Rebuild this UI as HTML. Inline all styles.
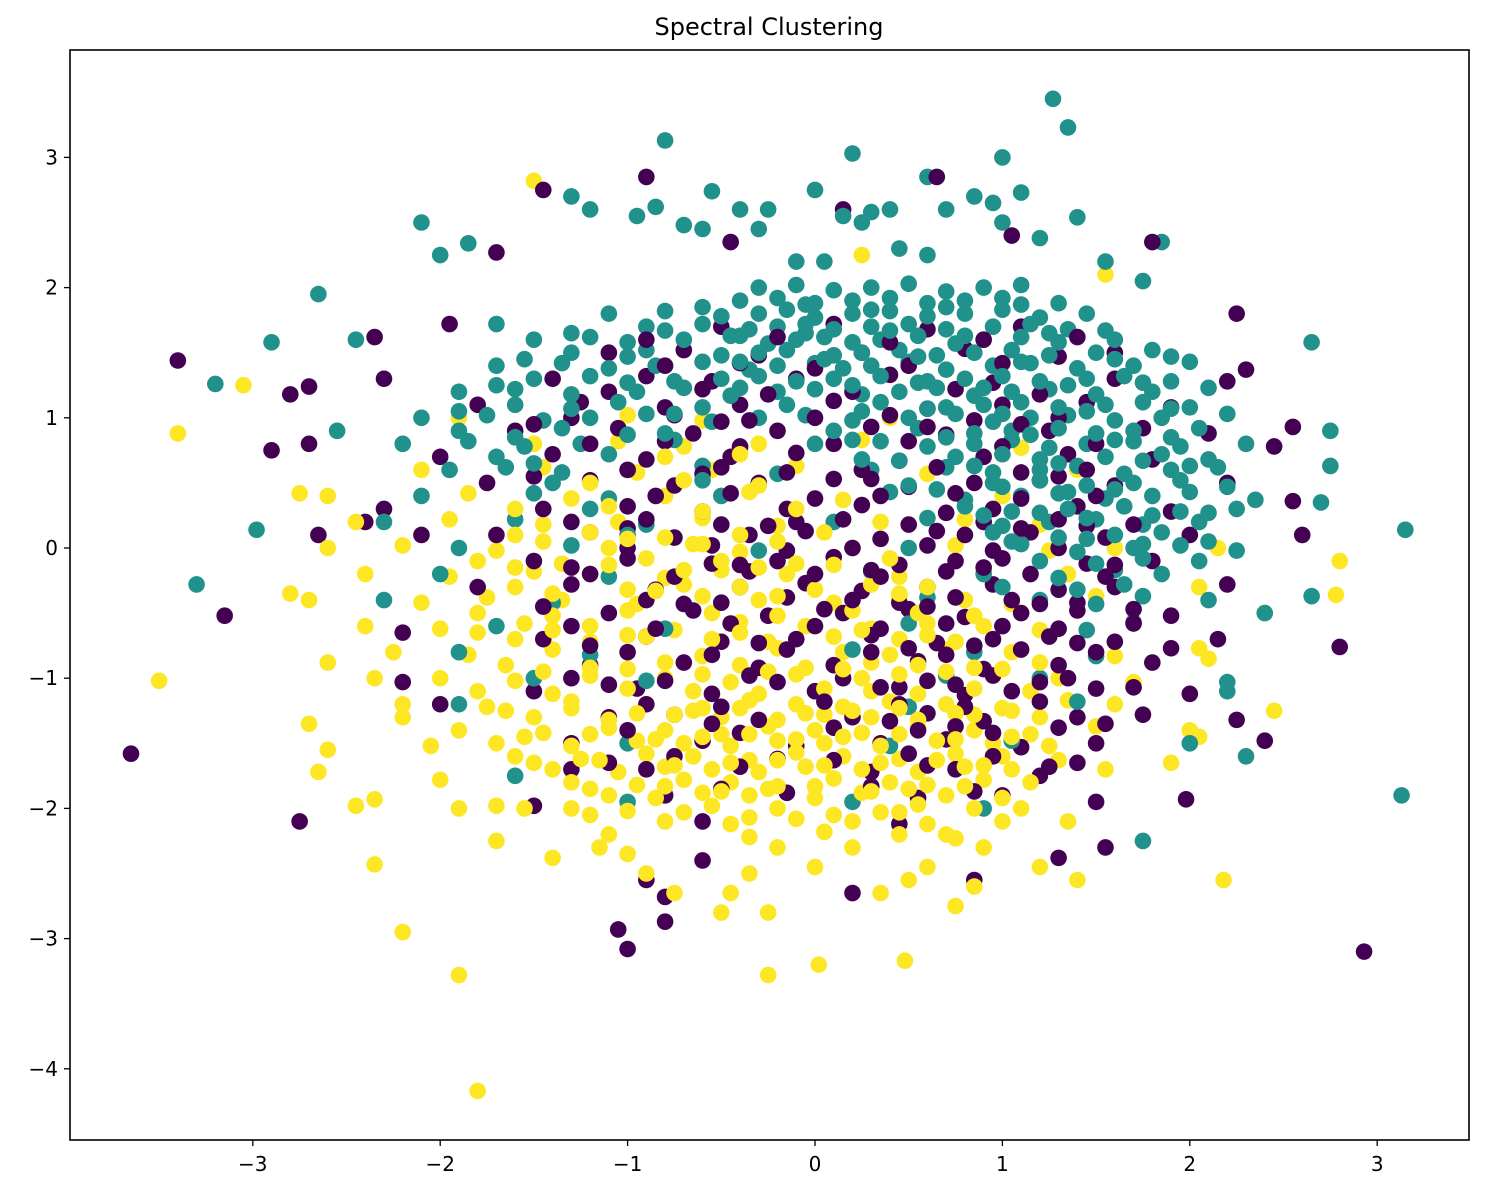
<!DOCTYPE html>
<html><head><meta charset="utf-8"><title>Spectral Clustering</title>
<style>
html,body{margin:0;padding:0;background:#fff;}
svg{display:block;font-family:"DejaVu Sans","Liberation Sans",sans-serif;}
</style></head>
<body>
<svg id="chart" width="1495" height="1188" viewBox="0 0 1495 1188" xmlns="http://www.w3.org/2000/svg">
<rect x="0" y="0" width="1495" height="1188" fill="#fff"/>
<text x="769" y="35" text-anchor="middle" font-size="24" fill="#000">Spectral Clustering</text>
<g id="points"></g>
<rect x="70" y="50" width="1399" height="1090" fill="none" stroke="#000" stroke-width="1.6"/>
<g id="xaxis"></g>
<g id="yaxis"></g>
</svg>
<script>
const xTicks=[-3,-2,-1,0,1,2,3];
const yTicks=[-4,-3,-2,-1,0,1,2,3];
const purple=[[-3.65,-1.58],[-3.4,1.44],[-3.15,-0.52],[-2.75,-2.1],[-2.8,1.18],[-2.9,0.75],[-2.7,0.8],[-2.7,1.24],[-2.65,0.1],[2.93,-3.1],[2.8,-0.76],[2.55,0.93],[2.25,1.8],[2.3,1.37],[2.45,0.78],[2.55,0.36],[2.6,0.1],[2.4,-1.48],[1.98,-1.93],[-0.9,2.85],[-1.45,2.75],[0.65,2.85],[0.15,2.6],[-0.45,2.35],[-1.7,2.27],[1.8,2.35],[1.05,2.4],[-1.0,-3.08],[-1.05,-2.93],[-0.8,-2.87],[-0.8,-2.68],[-0.9,-2.55],[-0.6,-2.4],[0.2,-2.65],[0.85,-2.55],[1.3,-2.38],[1.55,-2.3],[1.5,-1.95],[1.2,-1.75],[-1.5,-1.98],[-1.3,-1.7],[-2.0,-1.2],[-2.2,-1.03],[-2.2,-0.65],[-2.1,0.1],[-2.3,0.3],[-2.4,0.2],[-1.95,1.72],[-2.35,1.62],[-2.3,1.3],
[-0.5,1.7],[0.1,1.72],[0.6,1.68],[1.1,1.7],
[-1.1,1.5],[-0.7,1.52],[-0.3,1.48],[0.25,1.5],[0.8,1.53],[1.3,1.47],[1.6,1.5],
[-1.4,1.3],[-0.9,1.32],[-0.55,1.28],[-0.1,1.3],[0.4,1.33],[0.95,1.27],[1.6,1.3],[2.2,1.28],
[-1.8,1.1],[-1.25,1.12],[-0.8,1.08],[-0.4,1.1],[0.1,1.13],[0.6,1.07],[1.0,1.1],[1.45,1.12],[1.9,1.08],
[-1.6,0.9],[-1.05,0.92],[-0.65,0.88],[-0.2,0.9],[0.3,0.93],[0.7,0.87],[1.25,0.9],[1.75,0.92],[2.1,0.88],
[-2.0,0.7],[-1.4,0.72],[-0.9,0.68],[-0.45,0.7],[-0.1,0.73],[0.45,0.67],[0.9,0.7],[1.35,0.72],[1.8,0.68],
[-1.75,0.5],[-1.2,0.52],[-0.75,0.48],[-0.3,0.5],[0.1,0.53],[0.5,0.47],[0.85,0.5],[1.2,0.52],[1.6,0.48],[2.2,0.5],
[-1.45,0.3],[-1.0,0.32],[-0.6,0.28],[-0.15,0.3],[0.25,0.33],[0.7,0.27],[0.95,0.3],[1.4,0.32],[1.9,0.28],
[-1.7,0.1],[-1.2,0.12],[-0.75,0.08],[-0.35,0.1],[-0.05,0.13],[0.35,0.07],[0.8,0.1],[1.15,0.12],[1.55,0.08],[2.0,0.1],
[-1.5,-0.1],[-1.0,-0.08],[-0.55,-0.12],[-0.2,-0.1],[0.1,-0.07],[0.45,-0.13],[0.75,-0.1],[1.0,-0.08],[1.45,-0.12],[1.8,-0.1],
[-1.8,-0.3],[-1.3,-0.28],[-0.85,-0.32],[-0.4,-0.3],[-0.05,-0.27],[0.25,-0.33],[0.6,-0.3],[0.95,-0.28],[1.3,-0.32],[1.6,-0.3],[2.2,-0.28],
[-1.1,-0.5],[-0.65,-0.48],[-0.25,-0.52],[0.15,-0.5],[0.5,-0.47],[0.8,-0.53],[1.1,-0.5],[1.4,-0.48],[1.9,-0.52],
[-1.45,-0.7],[-0.9,-0.68],[-0.5,-0.72],[-0.1,-0.7],[0.3,-0.67],[0.65,-0.73],[0.95,-0.7],[1.25,-0.68],[1.6,-0.72],[2.15,-0.7],
[-1.2,-0.9],[-0.7,-0.88],[-0.3,-0.92],[0.1,-0.9],[0.55,-0.87],[0.9,-0.93],[1.3,-0.9],[1.8,-0.88],
[-1.5,-1.1],[-0.95,-1.08],[-0.55,-1.12],[0.0,-1.1],[0.45,-1.07],[0.8,-1.13],[1.05,-1.1],[1.5,-1.08],[2.0,-1.12],
[-1.1,-1.3],[-0.75,-1.28],[-0.3,-1.32],[0.2,-1.3],[0.6,-1.27],[0.9,-1.33],[1.4,-1.3],[1.75,-1.28],[2.25,-1.32],
[-1.3,-1.5],[-0.6,-1.48],[-0.1,-1.52],[0.35,-1.5],[0.7,-1.47],[1.1,-1.53],[1.5,-1.5],
[-0.9,-1.7],[-0.4,-1.68],[0.3,-1.72],[0.75,-1.7],[1.25,-1.68],
[-0.8,-1.9],[-0.15,-1.88],[0.55,-1.92],[1.0,-1.9],[-0.6,-2.1],[0.45,-2.12]];
const purpleExtra=[[-0.8,1.4],[-0.4,1.42],[0.0,1.38],[0.5,1.4],[1.0,1.42],
[-1.1,1.2],[-0.6,1.22],[-0.25,1.18],[0.2,1.2],[0.75,1.22],[1.2,1.18],
[-1.3,1.0],[-0.75,1.02],[-0.35,0.98],[0.0,1.0],[0.4,1.02],[0.85,0.98],[1.3,1.0],
[-1.2,0.8],[-0.8,0.82],[-0.4,0.78],[0.1,0.8],[0.5,0.82],[1.0,0.78],[1.5,0.8],
[-1.0,0.6],[-0.5,0.62],[-0.15,0.58],[0.25,0.6],[0.65,0.62],[1.1,0.58],[1.45,0.6],
[-0.85,0.4],[-0.45,0.42],[0.0,0.38],[0.35,0.4],[0.75,0.42],[1.1,0.38],[1.5,0.4],
[-1.3,0.2],[-0.9,0.22],[-0.5,0.18],[-0.1,0.2],[0.15,0.22],[0.5,0.18],[0.9,0.2],[1.3,0.22],[1.7,0.18],
[-1.0,0.0],[-0.55,0.02],[-0.15,-0.02],[0.2,0.0],[0.6,0.02],[0.95,-0.02],[1.3,0.0],
[-1.2,-0.2],[-0.75,-0.22],[-0.35,-0.18],[0.0,-0.2],[0.35,-0.22],[0.7,-0.18],[1.15,-0.2],[1.55,-0.22],
[-0.9,-0.4],[-0.5,-0.42],[-0.15,-0.38],[0.2,-0.4],[0.45,-0.42],[0.75,-0.38],[1.05,-0.4],[1.4,-0.42],
[-1.3,-0.6],[-0.85,-0.62],[-0.45,-0.58],[0.0,-0.6],[0.35,-0.62],[0.7,-0.58],[1.0,-0.6],[1.3,-0.62],[1.7,-0.58],
[-1.0,-0.8],[-0.55,-0.82],[-0.15,-0.78],[0.3,-0.8],[0.7,-0.82],[1.1,-0.78],[1.5,-0.8],
[-1.3,-1.0],[-0.8,-1.02],[-0.35,-0.98],[0.15,-1.0],[0.6,-1.02],[0.95,-0.98],[1.35,-1.0],
[-0.9,-1.2],[-0.5,-1.22],[0.05,-1.18],[0.45,-1.2],[0.8,-1.22],[1.2,-1.18],
[-1.0,-1.4],[-0.4,-1.42],[0.1,-1.38],[0.55,-1.4],[0.95,-1.42],[1.3,-1.38],
[-0.75,-1.6],[-0.2,-1.62],[0.5,-1.58],[0.95,-1.6]];
const purpleExtra2=[[-0.9,1.6],[-0.2,1.62],[0.4,1.58],[0.9,1.6],[1.4,1.62],
[-1.5,0.95],[-0.5,0.97],[0.6,0.93],[1.1,0.95],
[-1.5,0.55],[-0.6,0.57],[0.3,0.53],[1.3,0.55],
[-1.0,0.15],[-0.25,0.17],[0.65,0.13],[1.1,0.15],[1.45,0.17],
[-1.3,-0.15],[-0.4,-0.13],[0.3,-0.17],[0.9,-0.15],[1.6,-0.13],
[-1.45,-0.45],[-0.7,-0.43],[0.05,-0.47],[0.6,-0.45],[1.2,-0.43],[1.7,-0.47],
[-1.2,-0.75],[-0.3,-0.73],[0.5,-0.77],[0.85,-0.75],[1.4,-0.73],[1.9,-0.77],
[-1.1,-1.05],[-0.2,-1.03],[0.35,-1.07],[0.75,-1.05],[1.2,-1.03],[1.7,-1.07],
[-0.55,-1.35],[0.4,-1.33],[0.75,-1.37],[1.55,-1.35],
[-1.1,-1.65],[0.1,-1.63],[0.6,-1.67],[1.4,-1.65],
[-0.5,-1.85],[0.3,-1.83],[0.85,-1.87]];
const teal=[[1.27,3.45],[1.35,3.23],[-0.8,3.13],[0.2,3.03],[1.0,3.0],[-0.55,2.74],[1.1,2.73],[0.6,2.85],[-2.1,2.5],[-1.85,2.34],[-2.0,2.25],[-2.65,1.95],[-2.9,1.58],[-3.2,1.26],[-2.98,0.14],[-3.3,-0.28],[3.15,0.14],[3.13,-1.9],[2.75,0.9],[2.65,1.58],[2.75,0.63],[2.7,0.35],[2.65,-0.37],[1.85,2.35],[1.75,-2.25],[1.4,2.54],[-1.7,1.72],[-2.45,1.6],[-2.55,0.9],[-1.3,2.7],[-1.2,2.6],[-0.95,2.55],[-0.85,2.62],[-0.7,2.48],[-0.6,2.45],[-0.4,2.6],[-0.3,2.45],[-0.25,2.6],[0.0,2.75],[0.05,2.2],[-0.1,2.2],[0.15,2.55],[0.25,2.5],[0.3,2.58],[0.4,2.6],[0.45,2.3],[0.6,2.25],[0.7,2.6],[0.85,2.7],[0.95,2.65],[1.0,2.5],[1.2,2.38],[1.55,2.2],[1.75,2.05],[2.4,-0.5],[2.2,-1.1],[2.3,-1.6],[-0.8,-1.9],[0.9,-2.0],[0.2,-1.95],[-1.0,-1.95],[-1.6,-1.75],
[-0.3,2.0],[-0.1,2.02],[0.1,1.98],[0.3,2.0],[0.5,2.03],[0.7,1.97],[0.9,2.0],[1.1,2.02],
[-1.1,1.8],[-0.8,1.82],[-0.5,1.78],[-0.3,1.8],[-0.15,1.83],[0.0,1.77],[0.2,1.8],[0.4,1.82],[0.6,1.78],[0.8,1.8],[1.0,1.83],[1.2,1.77],[1.45,1.8],
[-1.5,1.6],[-1.2,1.62],[-1.0,1.58],[-0.7,1.6],[-0.4,1.63],[-0.25,1.57],[-0.1,1.6],[0.05,1.62],[0.2,1.58],[0.35,1.6],[0.55,1.63],[0.75,1.57],[0.9,1.6],[1.1,1.62],[1.3,1.58],[1.6,1.6],
[-1.7,1.4],[-1.35,1.42],[-1.1,1.38],[-0.85,1.4],[-0.6,1.43],[-0.35,1.37],[-0.2,1.4],[0.0,1.42],[0.15,1.38],[0.3,1.4],[0.5,1.43],[0.7,1.37],[0.95,1.4],[1.15,1.42],[1.4,1.38],[1.7,1.4],[2.0,1.43],
[-1.9,1.2],[-1.6,1.22],[-1.3,1.18],[-0.95,1.2],[-0.7,1.23],[-0.45,1.17],[-0.2,1.2],[0.0,1.22],[0.25,1.18],[0.45,1.2],[0.65,1.23],[0.85,1.17],[1.05,1.2],[1.25,1.22],[1.5,1.18],[1.8,1.2],[2.1,1.23],
[-2.1,1.0],[-1.75,1.02],[-1.45,0.98],[-1.2,1.0],[-0.9,1.03],[-0.55,0.97],[-0.3,1.0],[-0.05,1.02],[0.2,0.98],[0.5,1.0],[0.75,1.03],[0.95,0.97],[1.15,1.0],[1.35,1.02],[1.6,0.98],[1.85,1.0],[2.2,1.03],
[-2.2,0.8],[-1.85,0.82],[-1.55,0.78],[-1.25,0.8],[-0.75,0.83],[-0.4,0.77],[0.0,0.8],[0.35,0.82],[0.6,0.78],[0.85,0.8],[1.05,0.83],[1.25,0.77],[1.45,0.8],[1.7,0.82],[1.95,0.78],[2.3,0.8],
[-1.95,0.6],[-1.65,0.62],[-1.35,0.58],[-1.0,0.6],[-0.6,0.63],[-0.2,0.57],[0.3,0.6],[0.7,0.62],[0.95,0.58],[1.2,0.6],[1.4,0.63],[1.65,0.57],[1.9,0.6],[2.15,0.62],
[-2.1,0.4],[-1.5,0.42],[-1.1,0.38],[-0.5,0.4],[0.4,0.43],[0.8,0.37],[1.1,0.4],[1.3,0.42],[1.55,0.38],[1.8,0.4],[2.0,0.43],[2.35,0.37],
[-2.3,0.2],[-1.6,0.22],[-0.9,0.18],[0.1,0.2],[0.6,0.23],[1.0,0.17],[1.25,0.2],[1.5,0.22],[1.75,0.18],[2.05,0.2],
[-1.9,0.0],[-1.3,0.02],[-0.3,-0.02],[0.5,0.0],[1.1,0.03],[1.4,-0.03],[1.7,0.0],[1.95,0.02],[2.25,-0.02],
[-2.0,-0.2],[-1.1,-0.22],[0.3,-0.18],[0.9,-0.2],[1.3,-0.23],[1.6,-0.17],[1.85,-0.2],
[-2.3,-0.4],[-1.4,-0.42],[0.6,-0.38],[1.2,-0.4],[1.5,-0.43],[1.75,-0.37],[2.1,-0.4],
[-1.7,-0.6],[-0.8,-0.62],[0.5,-0.58],[1.0,-0.6],[1.45,-0.63],[1.7,-0.57],
[-1.9,-0.8],[-1.2,-0.82],[0.2,-0.78],[0.85,-0.8],[1.5,-0.83],
[-1.5,-1.0],[-0.9,-1.02],[0.7,-0.98],[1.2,-1.0],[2.2,-1.03],
[-1.9,-1.2],[0.5,-1.22],[1.4,-1.18],[-1.0,-1.5],[0.4,-1.52],[1.05,-1.48],[2.0,-1.5]];
const tealExtra=[[-0.4,1.9],[-0.2,1.92],[0.0,1.88],[0.2,1.9],[0.4,1.92],[0.6,1.88],[0.8,1.9],[1.0,1.92],[1.3,1.88],
[-0.9,1.7],[-0.6,1.72],[-0.35,1.68],[-0.2,1.7],[-0.05,1.72],[0.1,1.68],[0.3,1.7],[0.5,1.72],[0.7,1.68],[0.95,1.7],[1.15,1.72],[1.35,1.68],
[-1.3,1.5],[-0.9,1.52],[-0.5,1.48],[-0.3,1.5],[-0.15,1.52],[0.1,1.48],[0.25,1.5],[0.45,1.52],[0.65,1.48],[0.85,1.5],[1.05,1.52],[1.25,1.48],[1.5,1.5],[1.8,1.52],
[-1.5,1.3],[-1.2,1.32],[-0.75,1.28],[-0.5,1.3],[-0.3,1.32],[-0.1,1.28],[0.1,1.3],[0.35,1.32],[0.6,1.28],[0.8,1.3],[1.0,1.32],[1.2,1.28],[1.45,1.3],[1.65,1.32],[1.9,1.28],
[-1.6,1.1],[-1.05,1.12],[-0.6,1.08],[-0.15,1.1],[0.35,1.12],[0.7,1.08],[0.9,1.1],[1.1,1.12],[1.3,1.08],[1.55,1.1],[1.75,1.12],[2.0,1.08],
[-1.9,0.9],[-1.35,0.92],[-0.8,0.88],[0.1,0.9],[0.55,0.92],[0.85,0.88],[1.05,0.9],[1.3,0.92],[1.5,0.88],[1.7,0.9],[2.05,0.92],
[-1.7,0.7],[-1.1,0.72],[0.25,0.68],[0.75,0.7],[1.0,0.72],[1.2,0.68],[1.55,0.7],[1.85,0.72],[2.1,0.68],
[-1.4,0.5],[-0.6,0.52],[0.5,0.48],[0.95,0.5],[1.2,0.52],[1.45,0.48],[1.7,0.5],[1.95,0.52],
[-1.2,0.3],[0.8,0.32],[1.05,0.28],[1.35,0.3],[1.65,0.32],[1.95,0.28],[2.25,0.3],
[-1.0,0.1],[0.95,0.12],[1.3,0.08],[1.6,0.1],[1.85,0.12],
[1.2,-0.1],[1.5,-0.12],[1.75,-0.08],[2.05,-0.1],
[1.0,-0.3],[1.4,-0.32],[1.65,-0.28]];
const tealExtra2=[[-0.6,1.85],[-0.05,1.87],[0.3,1.83],[0.7,1.85],[1.1,1.87],
[-1.3,1.65],[-0.8,1.67],[-0.45,1.63],[-0.05,1.65],[0.4,1.67],[0.8,1.63],[1.25,1.65],[1.55,1.67],
[-1.55,1.45],[-1.0,1.47],[-0.4,1.43],[0.05,1.45],[0.55,1.47],[1.1,1.43],[1.6,1.45],[1.9,1.47],
[-1.7,1.25],[-1.0,1.27],[-0.4,1.23],[0.2,1.25],[0.55,1.27],[0.9,1.23],[1.35,1.25],[1.75,1.27],
[-1.9,1.05],[-1.3,1.07],[-0.75,1.03],[0.25,1.05],[0.6,1.07],[1.0,1.03],[1.45,1.05],[1.9,1.07],
[-1.6,0.85],[-1.0,0.87],[0.2,0.83],[0.7,0.85],[1.15,0.87],[1.6,0.83],[1.9,0.85],
[-1.5,0.65],[0.45,0.67],[0.85,0.63],[1.3,0.65],[1.75,0.67],[2.0,0.63],
[0.65,0.45],[1.0,0.47],[1.35,0.43],[1.6,0.45],[2.2,0.47],
[0.9,0.25],[1.2,0.27],[1.45,0.23],[1.8,0.25],[2.1,0.27],
[1.05,0.05],[1.45,0.07],[1.75,0.03],[2.1,0.05]];
const yellow=[[-3.5,-1.02],[-3.4,0.88],[-3.05,1.25],[-1.8,-4.17],[-1.9,-3.28],[-2.2,-2.95],[-2.35,-2.43],[-2.45,-1.98],[-2.35,-1.93],[-0.25,-3.28],[0.02,-3.2],[0.48,-3.17],[2.8,-0.1],[2.78,-0.36],[2.18,-2.55],[2.45,-1.25],[2.4,-0.5],[-1.5,2.82],[0.25,2.25],[1.55,2.1],[-2.75,0.42],[-2.8,-0.35],[-2.65,-1.72],[-2.7,-1.35],[-2.6,-1.55],[-2.6,-0.88],[-2.35,-1.0],[-2.2,-1.3],[-2.05,-1.52],[-2.0,-1.78],[-1.9,-2.0],[-1.7,-2.25],[-1.7,-1.98],[-1.4,-2.38],[-1.3,-2.0],[-1.15,-2.3],[-1.0,-2.35],[-0.9,-2.5],[-0.75,-2.65],[-0.5,-2.8],[-0.45,-2.65],[-0.35,-2.5],[-0.25,-2.8],[-0.2,-2.3],[0.0,-2.45],[0.2,-2.3],[0.35,-2.65],[0.5,-2.55],[0.6,-2.45],[0.75,-2.75],[0.85,-2.6],[0.7,-2.2],[0.9,-2.3],[1.0,-2.1],[1.1,-2.0],[1.2,-2.45],[1.35,-2.1],[1.4,-2.55],[1.55,-1.7],[1.9,-1.65],[2.05,-1.45],[2.1,-0.85],[2.05,-0.3],[2.15,0.0],
[-1.9,1.0],[-1.0,1.02],[-0.6,0.98],[0.4,1.0],[1.0,1.03],
[-1.5,0.8],[-1.05,0.82],[-0.7,0.78],[-0.3,0.8],[0.25,0.83],[1.1,0.77],
[-2.1,0.6],[-1.45,0.62],[-0.95,0.58],[-0.55,0.6],[-0.1,0.63],[0.6,0.57],[1.4,0.6],
[-2.6,0.4],[-1.85,0.42],[-1.3,0.38],[-0.8,0.4],[-0.35,0.43],[0.15,0.37],[1.0,0.4],
[-2.45,0.2],[-1.95,0.22],[-1.45,0.18],[-1.05,0.2],[-0.6,0.23],[-0.2,0.17],[0.35,0.2],[0.8,0.22],[1.2,0.18],
[-2.6,0.0],[-2.2,0.02],[-1.7,-0.02],[-1.1,0.0],[-0.65,0.03],[-0.4,-0.03],[0.2,0.0],[0.75,0.02],[1.25,-0.02],[1.6,0.0],
[-2.4,-0.2],[-1.95,-0.22],[-1.5,-0.18],[-1.2,-0.2],[-0.8,-0.23],[-0.5,-0.17],[-0.15,-0.2],[0.45,-0.22],[0.9,-0.18],[1.35,-0.2],
[-2.7,-0.4],[-2.1,-0.42],[-1.75,-0.38],[-1.35,-0.4],[-0.95,-0.43],[-0.6,-0.37],[-0.3,-0.4],[0.1,-0.42],[0.45,-0.38],[0.8,-0.4],[1.05,-0.43],[1.5,-0.37],
[-2.4,-0.6],[-2.0,-0.62],[-1.55,-0.58],[-1.2,-0.6],[-0.75,-0.63],[-0.4,-0.57],[-0.05,-0.6],[0.3,-0.62],[0.6,-0.58],[0.9,-0.6],[1.2,-0.63],
[-2.25,-0.8],[-1.85,-0.82],[-1.4,-0.78],[-1.0,-0.8],[-0.6,-0.83],[-0.2,-0.77],[0.15,-0.8],[0.4,-0.82],[0.7,-0.78],[1.05,-0.8],[1.6,-0.83],[2.05,-0.77],
[-2.0,-1.0],[-1.6,-1.02],[-1.2,-0.98],[-0.8,-1.0],[-0.45,-1.03],[-0.1,-0.97],[0.25,-1.0],[0.6,-1.02],[0.95,-0.98],[1.3,-1.0],[1.7,-1.03],
[-2.2,-1.2],[-1.75,-1.22],[-1.3,-1.18],[-0.9,-1.2],[-0.6,-1.23],[-0.35,-1.17],[-0.1,-1.2],[0.15,-1.22],[0.4,-1.18],[0.7,-1.2],[1.0,-1.23],[1.35,-1.17],[1.6,-1.2],
[-1.9,-1.4],[-1.45,-1.42],[-1.1,-1.38],[-0.8,-1.4],[-0.5,-1.43],[-0.25,-1.37],[0.0,-1.4],[0.25,-1.42],[0.55,-1.38],[0.85,-1.4],[1.15,-1.43],[1.5,-1.37],[2.0,-1.4],
[-1.6,-1.6],[-1.25,-1.62],[-0.9,-1.58],[-0.65,-1.6],[-0.35,-1.63],[-0.1,-1.57],[0.15,-1.6],[0.45,-1.62],[0.75,-1.58],[1.0,-1.6],[1.3,-1.63],
[-1.3,-1.8],[-0.95,-1.82],[-0.7,-1.78],[-0.45,-1.8],[-0.2,-1.83],[0.1,-1.77],[0.4,-1.8],[0.6,-1.82],[0.9,-1.78],[1.15,-1.8],
[-1.55,-2.0],[-1.0,-2.02],[-0.55,-1.98],[-0.2,-2.0],[0.35,-2.03],[0.55,-1.97],[0.85,-2.0],
[-1.1,-2.2],[-0.35,-2.22],[0.05,-2.18],[0.45,-2.2],[0.75,-2.23]];
const yellowExtra=[[-1.6,-0.3],[-1.0,-0.32],[-0.7,-0.28],[-0.4,-0.3],[0.0,-0.32],[0.3,-0.28],[0.6,-0.3],
[-1.8,-0.5],[-1.4,-0.52],[-1.0,-0.48],[-0.55,-0.5],[-0.2,-0.52],[0.2,-0.48],[0.55,-0.5],[0.85,-0.52],
[-1.6,-0.7],[-1.2,-0.72],[-0.9,-0.68],[-0.55,-0.7],[-0.25,-0.72],[0.1,-0.68],[0.45,-0.7],[0.75,-0.72],
[-1.65,-0.9],[-1.2,-0.92],[-0.8,-0.88],[-0.4,-0.9],[-0.05,-0.92],[0.3,-0.88],[0.55,-0.9],[0.85,-0.92],[1.2,-0.88],
[-1.8,-1.1],[-1.4,-1.12],[-1.0,-1.08],[-0.65,-1.1],[-0.3,-1.12],[0.05,-1.08],[0.3,-1.1],[0.55,-1.12],[0.85,-1.08],[1.15,-1.1],
[-1.5,-1.3],[-1.1,-1.32],[-0.75,-1.28],[-0.5,-1.3],[-0.2,-1.32],[0.05,-1.28],[0.3,-1.3],[0.55,-1.32],[0.85,-1.28],[1.2,-1.3],
[-1.7,-1.5],[-1.3,-1.52],[-0.95,-1.48],[-0.7,-1.5],[-0.45,-1.52],[-0.2,-1.48],[0.05,-1.5],[0.35,-1.52],[0.65,-1.48],[0.95,-1.5],[1.25,-1.52],
[-1.4,-1.7],[-1.05,-1.72],[-0.8,-1.68],[-0.55,-1.7],[-0.3,-1.72],[-0.05,-1.68],[0.25,-1.7],[0.55,-1.72],[0.8,-1.68],[1.05,-1.7],
[-1.1,-1.9],[-0.85,-1.92],[-0.6,-1.88],[-0.35,-1.9],[0.0,-1.92],[0.25,-1.88],[0.7,-1.9],[1.0,-1.92],
[-0.8,-2.1],[-0.45,-2.12],[-0.1,-2.08],[0.2,-2.1],[0.6,-2.12],
[-1.8,-0.1],[-1.35,-0.12],[-0.9,-0.08],[-0.5,-0.1],[-0.1,-0.12],[0.4,-0.08],
[-1.6,0.1],[-1.2,0.12],[-0.8,0.08],[-0.4,0.1],[0.05,0.12],
[-1.6,0.3],[-1.1,0.32],[-0.6,0.28],[-0.1,0.3],
[-1.2,0.5],[-0.7,0.52],[-0.3,0.48],[-0.8,0.7],[-0.4,0.72]];
const yellowExtra2=[[-1.4,-0.35],[-0.85,-0.33],[-0.2,-0.37],[0.45,-0.35],
[-1.8,-0.65],[-1.4,-0.63],[-1.0,-0.67],[-0.4,-0.65],[0.25,-0.63],[0.6,-0.67],
[-1.45,-0.95],[-1.0,-0.93],[-0.6,-0.97],[-0.25,-0.95],[0.15,-0.93],[0.45,-0.97],[0.7,-0.95],[1.0,-0.93],
[-1.65,-1.25],[-1.3,-1.23],[-0.95,-1.27],[-0.65,-1.25],[-0.4,-1.23],[-0.05,-1.27],[0.2,-1.25],[0.45,-1.23],[0.75,-1.27],[1.05,-1.25],
[-1.55,-1.45],[-1.2,-1.43],[-0.85,-1.47],[-0.6,-1.45],[-0.35,-1.43],[-0.1,-1.47],[0.15,-1.45],[0.45,-1.43],[0.75,-1.47],[1.05,-1.45],
[-1.5,-1.65],[-1.15,-1.63],[-0.75,-1.67],[-0.45,-1.65],[-0.2,-1.63],[0.05,-1.67],[0.35,-1.65],[0.65,-1.63],[0.9,-1.67],
[-1.2,-1.85],[-0.8,-1.83],[-0.5,-1.87],[-0.25,-1.85],[0.0,-1.83],[0.3,-1.87],[0.5,-1.85],[0.8,-1.83],
[-1.2,-2.05],[-0.7,-2.03],[-0.35,-2.07],[0.1,-2.05],[0.45,-2.03],
[-1.45,0.05],[-1.0,0.07],[-0.6,0.03],[-0.2,0.05],
[-1.6,-0.15],[-1.1,-0.13],[-0.7,-0.17],[-0.3,-0.15],[0.1,-0.13]];

const X0=70,X1=1469,Y0=50,Y1=1140;
function sx(v){return 815+(v)*187.4;}
function sy(v){return 548-(v)*130.2;}
const NS='http://www.w3.org/2000/svg';
const layer=document.getElementById('points');
const series=[{arr:purple.concat(purpleExtra,purpleExtra2),color:'#440154',name:'cluster-0-point'},{arr:teal.concat(tealExtra,tealExtra2),color:'#21918c',name:'cluster-1-point'},{arr:yellow.concat(yellowExtra,yellowExtra2),color:'#fde725',name:'cluster-2-point'}];
const n=Math.max(series[0].arr.length,series[1].arr.length,series[2].arr.length);
for(let i=0;i<n;i++){
  for(const s of series){
    if(i>=s.arr.length) continue;
    const c=document.createElementNS(NS,'circle');
    c.setAttribute('cx',sx(s.arr[i][0]));
    c.setAttribute('cy',sy(s.arr[i][1]));
    c.setAttribute('r',8.3);
    c.setAttribute('fill',s.color);
    
    
    layer.appendChild(c);
  }
}
const xa=document.getElementById('xaxis');
for(const t of xTicks){
  const l=document.createElementNS(NS,'line');
  l.setAttribute('x1',sx(t));l.setAttribute('x2',sx(t));l.setAttribute('y1',Y1);l.setAttribute('y2',Y1+6);
  l.setAttribute('stroke','#000');l.setAttribute('stroke-width','1.3');
  
  
  xa.appendChild(l);
  const tx=document.createElementNS(NS,'text');
  tx.setAttribute('x',sx(t));tx.setAttribute('y',Y1+31);tx.setAttribute('text-anchor','middle');tx.setAttribute('font-size','20');
  tx.textContent=(t<0?'\u2212'+(-t):String(t));
  
  
  xa.appendChild(tx);
}
const ya=document.getElementById('yaxis');
for(const t of yTicks){
  const l=document.createElementNS(NS,'line');
  l.setAttribute('x1',X0-6);l.setAttribute('x2',X0);l.setAttribute('y1',sy(t));l.setAttribute('y2',sy(t));
  l.setAttribute('stroke','#000');l.setAttribute('stroke-width','1.3');
  
  
  ya.appendChild(l);
  const tx=document.createElementNS(NS,'text');
  tx.setAttribute('x',X0-12);tx.setAttribute('y',sy(t)+7);tx.setAttribute('text-anchor','end');tx.setAttribute('font-size','20');
  tx.textContent=(t<0?'\u2212'+(-t):String(t));
  
  
  ya.appendChild(tx);
}
</script>
</body></html>
